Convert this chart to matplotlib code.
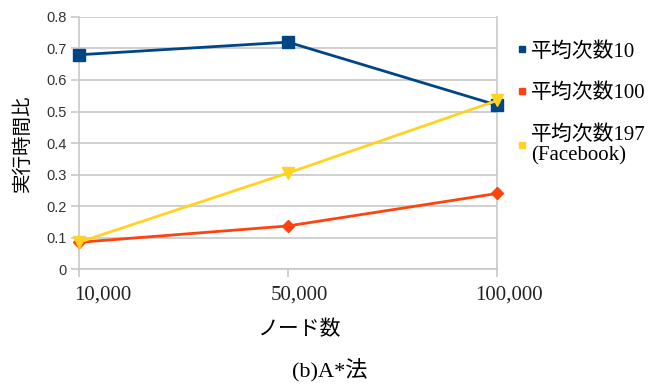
import matplotlib.pyplot as plt
from matplotlib.lines import Line2D
from matplotlib.transforms import ScaledTranslation

nodes = ["10,000", "50,000", "100,000"]
deg10 = [0.68, 0.72, 0.52]
deg100 = [0.085, 0.137, 0.24]
deg197 = [0.085, 0.305, 0.535]
series_names = ["平均次数10", "平均次数100", "平均次数197\n(Facebook)"]
yticks = [0, 0.1, 0.2, 0.3, 0.4, 0.5, 0.6, 0.7, 0.8]
ytick_labels = ["0", "0.1", "0.2", "0.3", "0.4", "0.5", "0.6", "0.7", "0.8"]

BLUE = "#004586"
RED = "#ff420e"
YELLOW = "#ffd320"
GRID = "#c8c8c8"
SERIF = ["Liberation Serif", "Noto Sans CJK JP"]
SANS = ["Liberation Sans", "Noto Sans CJK JP"]

fig = plt.figure(figsize=(6.63, 3.85), dpi=100)
ax = fig.add_axes([0.119, 0.301, 0.631, 0.655])

x = list(range(len(nodes)))
ax.plot(x, deg10, color=BLUE, lw=2, marker="s", ms=8, zorder=3, clip_on=False)
ax.plot(x, deg100, color=RED, lw=2, marker="D", ms=6, zorder=3, clip_on=False)
ax.plot(x, deg197, color=YELLOW, lw=2, marker="v", ms=8, zorder=4, clip_on=False)

ax.set_xlim(0, 2)
ax.set_ylim(0, 0.8)
ax.set_yticks(yticks)
ax.set_yticklabels(ytick_labels, family=SANS, fontsize=10.5, color="#333333")
ax.set_xticks(x)
ax.set_xticklabels(nodes, family=SERIF, fontsize=15, color="#222222")
ax.tick_params(axis="x", length=6, width=1.2, color=GRID, pad=6)
ax.tick_params(axis="y", length=6, width=1.2, color=GRID, pad=3)

# the category labels sit a little to the right of their ticks in the original
for lab, dx in zip(ax.get_xticklabels(), [24, 11, 12]):
    lab.set_transform(lab.get_transform() + ScaledTranslation(dx / 100, 0, fig.dpi_scale_trans))

ax.grid(axis="y", color=GRID, lw=1.2, zorder=0)
ax.set_axisbelow(True)
ax.spines["top"].set_visible(False)
for name in ("left", "bottom", "right"):
    ax.spines[name].set_color(GRID)
    ax.spines[name].set_linewidth(1.2)

ax.set_ylabel("実行時間比", family=SANS, fontsize=14, labelpad=10)
ax.set_xlabel("ノード数", family=SANS, fontsize=15)
ax.xaxis.set_label_coords(0.526, -0.2)

handles = [Line2D([], [], ls="none", marker="s", ms=5, color=c) for c in (BLUE, RED, YELLOW)]
leg = fig.legend(handles, series_names, loc="upper left", bbox_to_anchor=(0.751, 0.94),
                 frameon=False, handlelength=0.5, handletextpad=0.2, labelspacing=1.05,
                 prop={"family": SERIF, "size": 15})
for t in leg.get_texts():
    t.set_linespacing(1.1)

fig.text(0.498, 0.036, "(b)A*法", ha="center", va="center", family=SERIF, fontsize=16)

fig.savefig("out.png", dpi=100)
